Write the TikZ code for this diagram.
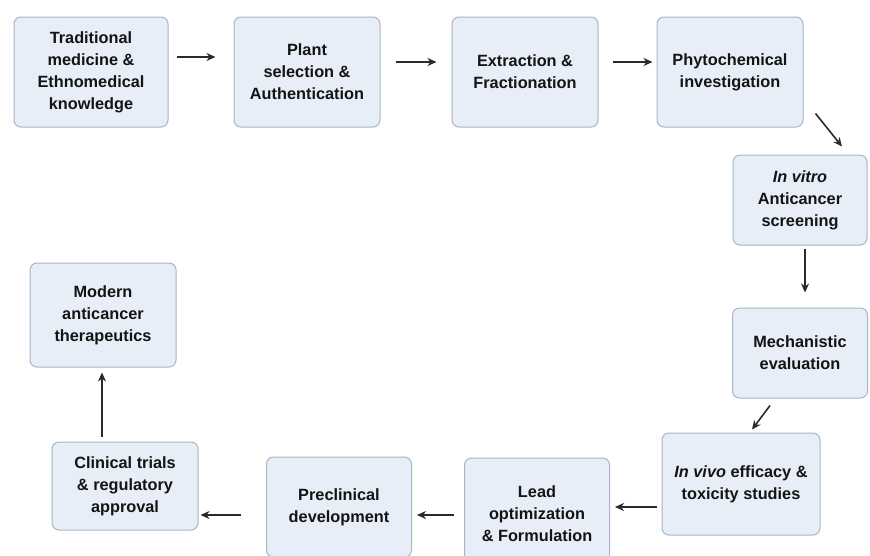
\documentclass[tikz,border=0pt]{standalone}
\usepackage{fontspec}
\setmainfont{Liberation Sans}
\usetikzlibrary{arrows.meta}
\definecolor{ink}{HTML}{141414}
\definecolor{edge}{HTML}{A9B5C8}
\definecolor{pale}{HTML}{E8EEF8}
\definecolor{lead}{HTML}{2B2B2B}

\begin{document}
\begin{tikzpicture}[
    x=1pt, y=-1pt,
    flow/.style={-{Stealth[length=9pt,width=8pt]}, line width=1.6pt, draw=lead},
    stage/.style={rectangle, rounded corners=7pt, draw=edge, line width=1.0pt, fill=pale,
      align=center, inner sep=2pt, text=ink, font=\fontsize{16.3}{22}\selectfont\bfseries}]
  % fixed 870 x 555 canvas, y runs downwards
  \path[use as bounding box] (0,0) rectangle (870,555);
  \fill[white] (0,0) rectangle (870,555);

  % ================= top row =================
  \node[stage, minimum width=154pt, minimum height=110pt] (trad) at (91,72)
    {Traditional\\medicine \&\\Ethnomedical\\knowledge};
  \node[stage, minimum width=146pt, minimum height=110pt] (plant) at (307,72)
    {Plant\\selection \&\\Authentication};
  \node[stage, minimum width=146pt, minimum height=110pt] (extract) at (525,72)
    {Extraction \&\\Fractionation};
  \node[stage, minimum width=146pt, minimum height=110pt] (phyto) at (730,72)
    {Phytochemical\\investigation};

  % ================= right column =================
  \node[stage, minimum width=134pt, minimum height=90pt] (vitro) at (800,200)
    {\textit{In vitro}\\Anticancer\\screening};
  \node[stage, minimum width=135pt, minimum height=90pt] (mech) at (800,353)
    {Mechanistic\\evaluation};

  % ================= bottom row =================
  \node[stage, minimum width=158pt, minimum height=102pt] (vivo) at (741,484)
    {\textit{In vivo} efficacy \&\\toxicity studies};
  \node[stage, minimum width=145pt, minimum height=112pt] (optim) at (537,514)
    {Lead\\optimization\\\& Formulation};
  \node[stage, minimum width=145pt, minimum height=100pt] (precl) at (339,507)
    {Preclinical\\development};
  \node[stage, minimum width=146pt, minimum height=88pt] (clin) at (125,486)
    {Clinical trials\\\& regulatory\\approval};
  \node[stage, minimum width=146pt, minimum height=104pt] (modern) at (103,315)
    {Modern\\anticancer\\therapeutics};

  % ================= connectors =================
  \draw[flow, shorten <=8pt, shorten >=18pt] ([yshift=15pt]trad.east) -- ([yshift=15pt]trad.east -| plant.west);
  \draw[flow, shorten <=15pt, shorten >=15pt] ([yshift=10pt]plant.east) -- ([yshift=10pt]plant.east -| extract.west);
  \draw[flow, shorten <=14pt, shorten >=4pt] ([yshift=10pt]extract.east) -- ([yshift=10pt]extract.east -| phyto.west);
  \draw[flow] ([shift={(12,-14)}]phyto.south east) -- ([shift={(42,-8)}]vitro.north);
  \draw[flow, shorten <=3pt, shorten >=15pt] ([xshift=5pt]vitro.south) -- ([xshift=5pt]mech.north);
  \draw[flow] ([shift={(-30,7)}]mech.south) -- ([shift={(11,-3)}]vivo.north);
  \draw[flow, shorten <=5pt, shorten >=5pt] ([yshift=-23pt]vivo.west) -- ([yshift=-23pt]vivo.west -| optim.east);
  \draw[flow, shorten <=10pt, shorten >=5pt] ([yshift=-1pt]optim.west) -- ([yshift=-1pt]optim.west -| precl.east);
  \draw[flow, shorten <=25pt, shorten >=2pt] ([yshift=-8pt]precl.west) -- ([yshift=-8pt]precl.west -| clin.east);
  \draw[flow, shorten <=5pt, shorten >=5pt] ([xshift=-23pt]clin.north) -- ([xshift=-23pt]clin.north |- modern.south);
\end{tikzpicture}
\end{document}
